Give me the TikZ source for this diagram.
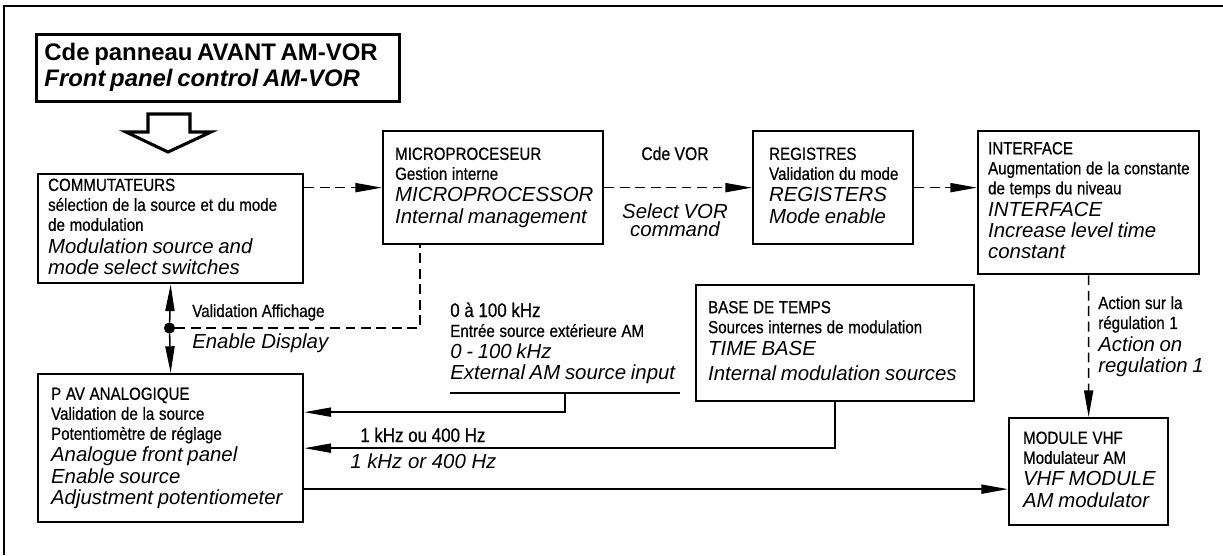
\documentclass[tikz,border=0pt]{standalone}
\usepackage{fontspec}
\setmainfont{Liberation Sans}
\newfontfamily\condfont{Liberation Sans}[FakeStretch=0.86, FakeBold=0.6]
\usetikzlibrary{arrows.meta, positioning, calc}
\setlength{\lineskip}{0pt}

% french lines upright, english lines italic
\newcommand{\frl}[2][l]{{\condfont\fontsize{12.5}{14.2}\selectfont\begin{tabular}[t]{@{}#1@{}}#2\end{tabular}\par}}
\newcommand{\enl}[2][l]{{\itshape\fontsize{14.5}{15}\selectfont\begin{tabular}[t]{@{}#1@{}}#2\end{tabular}\par}}

\begin{document}
\begin{tikzpicture}[
        x=0.025cm, y=-0.025cm,
        box/.style={draw, line width=1.6pt, anchor=north west, align=left, inner ysep=2pt},
        flow/.style={line width=1.1pt, -{Triangle[length=19pt,width=6.5pt]}},
        dflow/.style={flow, dash pattern=on 7pt off 4pt},
        dline/.style={line width=1.1pt, dash pattern=on 7pt off 4pt},
        lbl/.style={inner sep=0pt, anchor=base west, align=left},
        fr/.style={font=\condfont\fontsize{12.5}{14.2}\selectfont},
        en/.style={font=\itshape\fontsize{14.5}{15}\selectfont},
        point/.style={circle, fill=black, inner sep=0pt, minimum size=8pt}
    ]
    \useasboundingbox (0,0) rectangle (1223,555);
    \draw[line width=1.5pt] (4,555) -- (4,6) -- (1223,6);

    \node[box, line width=2pt, minimum width=9.075cm, minimum height=1.675cm, text width=8.675cm, inner xsep=0.2cm] (title) at (35,33)
        {{\bfseries\fontsize{17}{18.5}\selectfont\begin{tabular}[t]{@{}l@{}}Cde panneau AVANT AM-VOR\\\itshape Front panel control AM-VOR\end{tabular}\par}};
    \draw[line width=2.2pt] (148,114) -- (190,114) -- (190,132) -- (211,132) -- (168,152) -- (126,132) -- (148,132) -- cycle;

    \node[box, minimum width=6.625cm, minimum height=2.725cm, text width=6.125cm, inner xsep=0.25cm] (commut) at (37,173)
        {\frl{COMMUTATEURS\\sélection de la source et du mode\\de modulation}\enl{Modulation source and\\mode select switches}};
    \node[box, minimum width=5.5cm, minimum height=2.825cm, text width=4.9cm, inner xsep=0.3cm] (micro) at (382,130)
        {\frl{MICROPROCESEUR\\Gestion interne}\enl{MICROPROCESSOR\\Internal management}};
    \node[box, minimum width=4cm, minimum height=2.825cm, text width=3.2cm, inner xsep=0.4cm] (reg) at (752,130)
        {\frl{REGISTRES\\Validation du mode}\enl{REGISTERS\\Mode enable}};
    \node[box, minimum width=5.525cm, minimum height=3.575cm, text width=5.025cm, inner xsep=0.25cm] (iface) at (977,130)
        {\frl{INTERFACE\\Augmentation de la constante\\de temps du niveau}\enl{INTERFACE\\Increase level time\\constant}};
    \node[box, minimum width=6.95cm, minimum height=2.9cm, text width=6.35cm, inner xsep=0.3cm] (base) at (695,284)
        {\frl{BASE DE TEMPS\\Sources internes de modulation}\enl{TIME BASE\\[3pt]Internal modulation sources}};
    \node[box, minimum width=6.625cm, minimum height=3.7cm, text width=5.975cm, inner xsep=0.325cm] (pav) at (37,373)
        {\frl{P AV ANALOGIQUE\\Validation de la source\\Potentiomètre de réglage}\enl{Analogue front panel\\Enable source\\Adjustment potentiometer}};
    \node[box, minimum width=3.975cm, minimum height=2.675cm, text width=3.275cm, inner xsep=0.35cm] (vhf) at (1008,417)
        {\frl{MODULE VHF\\Modulateur AM}\enl{VHF MODULE\\AM modulator}};

    % labels
    \node[lbl, anchor=base, font=\condfont\fontsize{13}{14}\selectfont] (cde) at (675,160) {Cde VOR};
    \node[lbl, anchor=base, align=center, text width=3cm] (selvor) at (675,218) {\enl[c]{Select VOR\\[-2pt]command}};
    \node[lbl, fr] (valfr) at (192,317) {Validation Affichage};
    \node[lbl, en] (valen) at (192,348) {Enable Display};
    \node[lbl, text width=5.725cm] (ext) at (450,317)
        {{\condfont\fontsize{14}{14.2}\selectfont 0 à 100 kHz\par}\frl{Entrée source extérieure AM}\enl{0 - 100 kHz\\External AM source input}};
    \node[lbl, font=\condfont\fontsize{14}{14.2}\selectfont] (khzfr) at (360,442) {1 kHz ou 400 Hz};
    \node[lbl, en] (khzen) at (350,468) {1 kHz or 400 Hz};
    \node[lbl, text width=2.8cm] (action) at (1098,309) {\frl{Action sur la\\régulation 1}\enl{Action on\\regulation 1}};

    % connectors
    \draw[dflow] (commut.east |- micro.west) -- (micro.west);
    \draw[dflow] (micro.east) -- (reg.west);
    \draw[dflow] (reg.east) -- (reg.east -| iface.west);
    \draw[dflow] (iface.south) -- (vhf.north);

    \node[point] (dot) at (169.5,328) {};
    \draw[flow] (dot) -- (commut.south);
    \draw[flow] (dot) -- (pav.north);
    \coordinate (bend) at (420,328);
    \draw[dline] (dot) -- (bend) -- (bend |- micro.south);

    \draw[line width=1.1pt] ([yshift=-5pt]ext.south west) -- ([yshift=-5pt]ext.south east);
    \draw[flow] ([yshift=-5pt]ext.south) |- ($(pav.east)+(0,-36)$);
    \draw[flow] (base.south) |- (pav.east);
    \coordinate (pavout) at ($(pav.east)+(0,41)$);
    \draw[flow] (pavout) -- (pavout -| vhf.west);
\end{tikzpicture}
\end{document}
